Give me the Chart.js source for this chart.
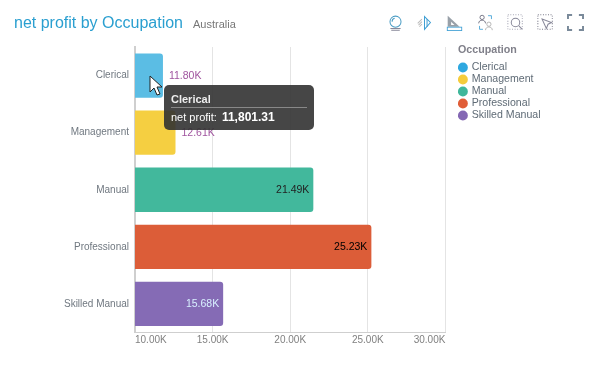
<!DOCTYPE html>
<html>
<head>
<meta charset="utf-8">
<title>net profit by Occupation</title>
<script src="https://cdn.jsdelivr.net/npm/chart.js@4"></script>
<style>
    html, body { margin: 0; padding: 0; background: #fff; overflow: hidden; }
    body { width: 597px; height: 373px; position: relative; font-family: "Liberation Sans", Arial, sans-serif; }
    #chart { position: absolute; left: 0; top: 0; }
    #title { position: absolute; left: 14px; top: 14px; font-size: 16px; color: #2a9fd0; white-space: nowrap; }
    #subtitle { position: absolute; left: 193px; top: 18px; font-size: 11px; color: #777; white-space: nowrap; }
    #tip {
        position: absolute; left: 164px; top: 85px; width: 150px; height: 45px; box-sizing: border-box;
        padding: 8px 7px; background: rgba(50, 50, 50, 0.9); border-radius: 5px; color: #fff; font-size: 11px;
    }
    #tip .head { font-weight: bold; color: #eee; padding-bottom: 1px; border-bottom: 1px solid #888; line-height: 13px; }
    #tip .row { margin-top: 3px; line-height: 13px; white-space: nowrap; }
    #tip b { margin-left: 2px; font-size: 12px; }
    .icon { position: absolute; top: 14px; width: 17px; height: 17px; }
    #cursor { position: absolute; left: 149px; top: 75px; }
</style>
</head>
<body>
<canvas id="chart" width="597" height="373"></canvas>
<div id="title">net profit by Occupation</div>
<div id="subtitle">Australia</div>

<!-- toolbar -->
<svg class="icon" style="left:387px" viewBox="0 0 20 20" fill="none" stroke="#4a9cc4" stroke-width="1.2"><circle cx="10" cy="9" r="6.5"/><path d="M6 9a4 4 0 0 1 3-4"/><path d="M4 17h12M5 19h10" stroke="#889"/></svg>
<svg class="icon" style="left:416px" viewBox="0 0 20 20" fill="none" stroke="#3f9fd4" stroke-width="1.2"><path d="M10 3l7 7-7 8z"/><path d="M13 6v9"/><path d="M7 6L2 11M7 9l-4 4M7 12l-3 3" stroke="#bbb"/></svg>
<svg class="icon" style="left:446px" viewBox="0 0 20 20" fill="none"><path d="M2 2l14 13H2z" fill="#98a0a8"/><path d="M6 9l4 4H6z" fill="#fff"/><rect x="1.5" y="15.5" width="17" height="4" stroke="#3f9fd4"/></svg>
<svg class="icon" style="left:477px" viewBox="0 0 20 20" fill="none" stroke="#667" stroke-width="1"><circle cx="6" cy="4" r="2.5"/><path d="M2 11c0-5 8-5 8 0"/><circle cx="14" cy="12" r="2.5" stroke="#aaa"/><path d="M10 19c0-5 8-5 8 0" stroke="#aaa"/><path d="M13 2h4v4M3 14v4h4" stroke="#3f9fd4"/></svg>
<svg class="icon" style="left:507px" viewBox="0 0 20 20" fill="none" stroke="#889" stroke-width="1.2"><rect x="1" y="1" width="17" height="17" stroke-dasharray="1 2" stroke="#99a"/><circle cx="10" cy="10" r="5"/><path d="M14 14l4 4"/></svg>
<svg class="icon" style="left:537px" viewBox="0 0 20 20" fill="none" stroke="#889" stroke-width="1.2"><rect x="1" y="1" width="17" height="17" stroke-dasharray="1 2" stroke="#667"/><path d="M6 6l11 4-4 2-2 5z"/></svg>
<svg class="icon" style="left:567px" viewBox="0 0 20 20" fill="none" stroke="#7a8a9a" stroke-width="2.6"><path d="M1 6V1h5M14 1h5v5M19 14v5h-5M6 19H1v-5"/></svg>

<div id="tip">
    <div class="head" id="tip-head"></div>
    <div class="row"><span id="tip-name"></span>: <b id="tip-value"></b></div>
</div>
<svg id="cursor" width="14" height="22" viewBox="0 0 14 22"><path d="M1 1v16l4-4 3 7 3-1-3-7h5z" fill="#fff" stroke="#222" stroke-width="1"/></svg>

<script>
const categories = ["Clerical", "Management", "Manual", "Professional", "Skilled Manual"];
const netProfit = [11801.31, 12610, 21490, 25230, 15680];
const barColors = ["#5bbde4", "#f5cf41", "#42b89c", "#dc5d38", "#856bb5"];
const legendColors = ["#2ea8e0", "#f5cc3c", "#3fb79b", "#e05e38", "#8468b4"];
const labelColors = ["#a0559f", "#a0559f", "#222222", "#000000", "#d8f0ff"];
const labelInside = [false, false, true, true, true];
const xTicks = [10000, 15000, 20000, 25000, 30000];
const seriesName = "net profit";

const fontFamily = '"Liberation Sans", Arial, sans-serif';

function kLabel(v) {
    return (v / 1000).toFixed(2) + "K";
}

// value labels at the end of the bars
const barLabels = {
    id: "barLabels",
    afterDatasetsDraw(chart) {
        const ctx = chart.ctx;
        const bars = chart.getDatasetMeta(0).data;
        ctx.save();
        ctx.font = "10.5px " + fontFamily;
        ctx.textBaseline = "middle";
        bars.forEach((bar, i) => {
            ctx.fillStyle = labelColors[i];
            ctx.textAlign = labelInside[i] ? "right" : "left";
            const x = labelInside[i] ? bar.x - 4 : bar.x + 6;
            ctx.fillText(kLabel(netProfit[i]), x, bar.y + 0.5);
        });
        ctx.restore();
    }
};

// legend sits beside the plot, a little above its top edge
const legendPlace = {
    id: "legendPlace",
    afterLayout(chart) {
        chart.legend.left = 458;
        chart.legend.right = 597;
        chart.legend.top = 45;
    }
};

const chart = new Chart(document.getElementById("chart"), {
    type: "bar",
    data: {
        labels: categories,
        datasets: [{
            label: seriesName,
            data: netProfit,
            backgroundColor: barColors,
            borderRadius: { topRight: 3, bottomRight: 3 },
            borderSkipped: "left",
            categoryPercentage: 0.775,
            barPercentage: 1
        }]
    },
    plugins: [barLabels, legendPlace],
    options: {
        indexAxis: "y",
        responsive: false,
        animation: false,
        events: [],
        layout: { padding: { left: 0, top: 47, right: 59, bottom: 0 } },
        scales: {
            x: {
                min: 10000,
                max: 30000,
                afterBuildTicks(axis) {
                    axis.ticks = xTicks.map(v => ({ value: v }));
                },
                afterFit(axis) {
                    axis.height = 40.5;
                },
                grid: { color: "#e4e4e4", drawTicks: false },
                border: { color: "#cfcfcf", width: 1 },
                ticks: {
                    align: "inner",
                    padding: 2,
                    color: "#808080",
                    maxRotation: 0,
                    font: { family: fontFamily, size: 10 },
                    callback: v => kLabel(v)
                }
            },
            y: {
                afterFit(axis) {
                    axis.width = 135;
                },
                grid: { display: false, drawTicks: false },
                border: { color: "#cfcfcf", width: 2 },
                ticks: {
                    color: "#707880",
                    padding: 6,
                    font: { family: fontFamily, size: 10 }
                }
            }
        },
        plugins: {
            tooltip: { enabled: false },
            legend: {
                position: "right",
                align: "start",
                title: {
                    display: true,
                    text: "Occupation",
                    position: "start",
                    color: "#80808a",
                    padding: { top: 0, bottom: 3 },
                    font: { family: fontFamily, size: 10.7, weight: "bold" }
                },
                labels: {
                    usePointStyle: true,
                    pointStyle: "circle",
                    boxWidth: 7,
                    boxHeight: 7,
                    padding: 1.4,
                    color: "#5f6b76",
                    font: { family: fontFamily, size: 10.6 },
                    generateLabels() {
                        return categories.map((name, i) => ({
                            text: name,
                            fillStyle: legendColors[i],
                            strokeStyle: legendColors[i],
                            fontColor: "#5f6b76",
                            pointStyle: "circle",
                            lineWidth: 0,
                            hidden: false,
                            index: i
                        }));
                    }
                }
            }
        }
    }
});

document.getElementById("tip-head").textContent = categories[0];
document.getElementById("tip-name").textContent = seriesName;
document.getElementById("tip-value").textContent = netProfit[0].toLocaleString("en-US", { minimumFractionDigits: 2 });
</script>
</body>
</html>
